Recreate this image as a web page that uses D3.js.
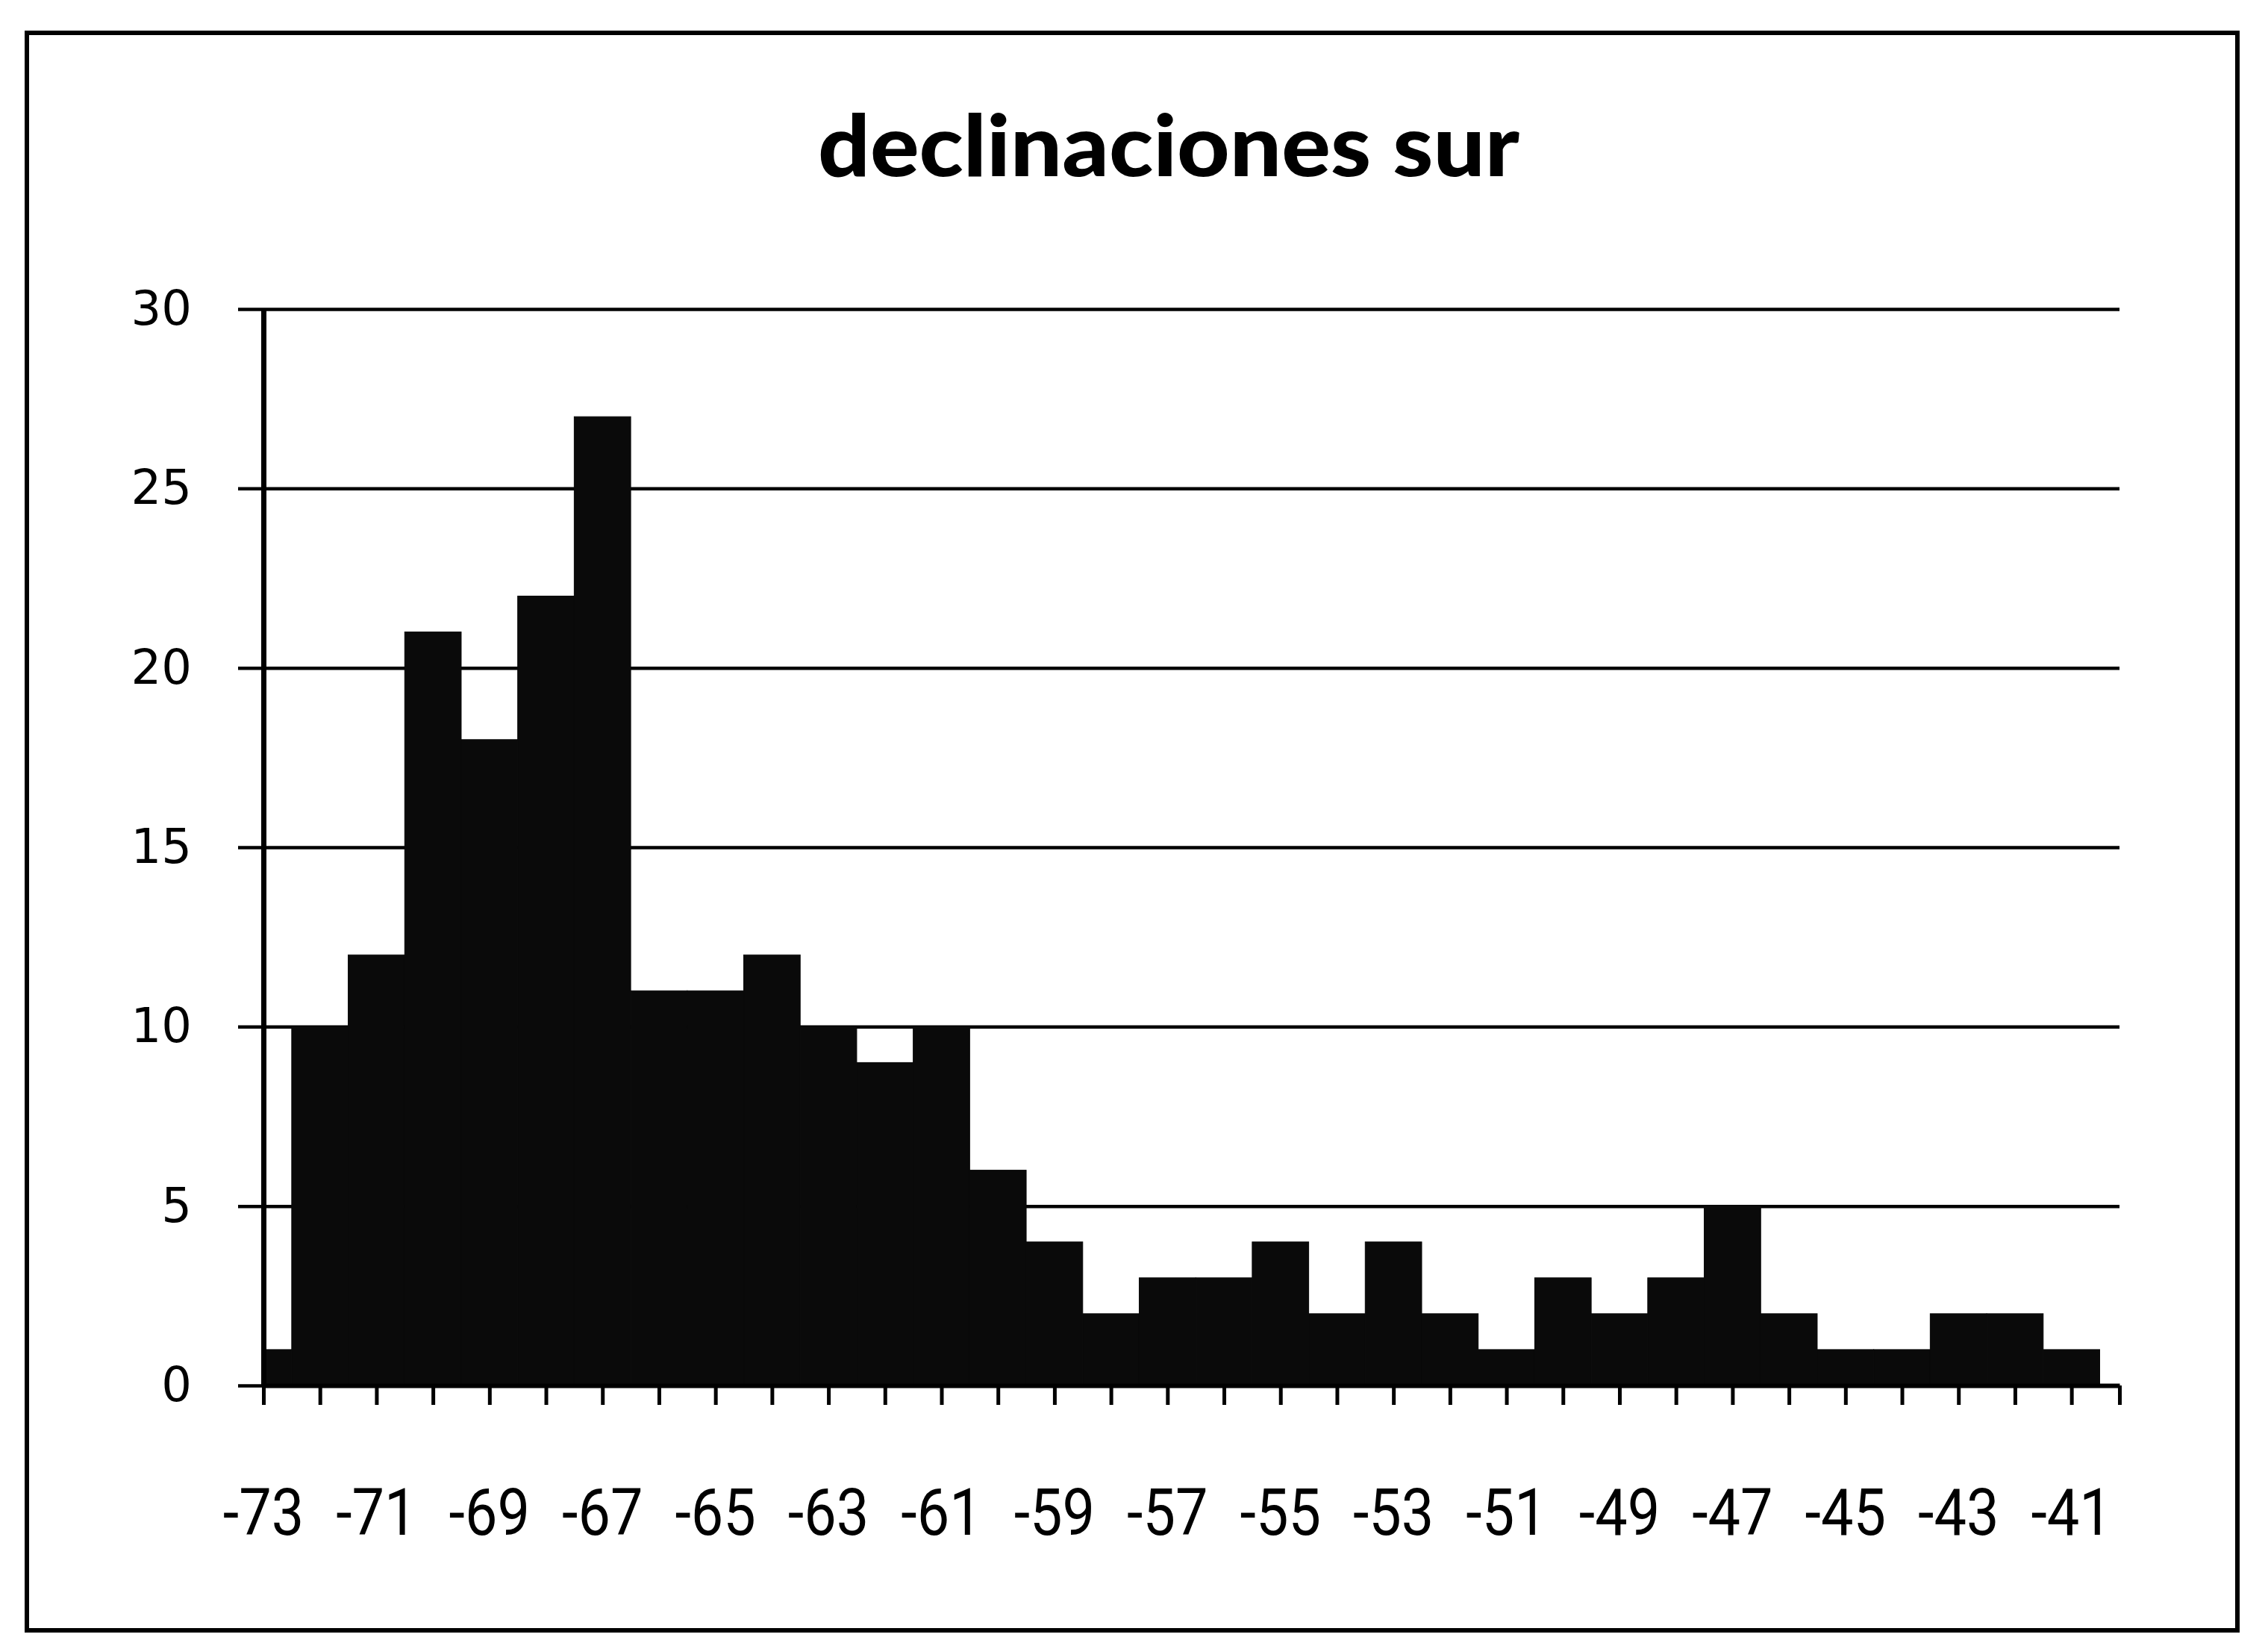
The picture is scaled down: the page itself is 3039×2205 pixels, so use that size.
<!DOCTYPE html>
<html>
<head>
<meta charset="utf-8">
<script src="https://cdn.jsdelivr.net/npm/d3@7"></script>
<style>
  html, body { margin: 0; padding: 0; background: #fff; }
</style>
</head>
<body>
<div id="chart"></div>
<script>
// declination bins (degrees) and star counts per bin
const categories = [-73, -72, -71, -70, -69, -68, -67, -66, -65, -64, -63, -62, -61, -60, -59, -58, -57,
                    -56, -55, -54, -53, -52, -51, -50, -49, -48, -47, -46, -45, -44, -43, -42, -41];
const counts = [1, 10, 12, 21, 18, 22, 27, 11, 11, 12, 10, 9, 10, 6, 4, 2, 3,
                3, 4, 2, 4, 2, 1, 3, 2, 3, 5, 2, 1, 1, 2, 2, 1];
const xTickLabels = [-73, -71, -69, -67, -65, -63, -61, -59, -57, -55, -53, -51, -49, -47, -45, -43, -41];
const yTicks = [0, 5, 10, 15, 20, 25, 30];
const title = "declinaciones sur";

const W = 3039, H = 2205;
const plot = { left: 353, right: 2840, top: 414, bottom: 1856 };

const data = categories.map((c, i) => ({ cat: c, n: counts[i] }));

const svg = d3.select('#chart')
    .append('svg')
    .attr('width', W)
    .attr('height', H)
    .style('display', 'block');

svg.append('rect').attr('width', W).attr('height', H).attr('fill', '#fff');

// outer frame
svg.append('rect')
    .attr('x', 36).attr('y', 44)
    .attr('width', 2962).attr('height', 2140)
    .attr('fill', 'none')
    .attr('stroke', '#000')
    .attr('stroke-width', 6);

svg.append('text')
    .attr('x', 1566)
    .attr('y', 236)
    .attr('text-anchor', 'middle')
    .attr('textLength', 940)
    .attr('lengthAdjust', 'spacingAndGlyphs')
    .style('font-family', 'Lato, "Open Sans", sans-serif')
    .style('font-weight', '900')
    .style('font-size', '114px')
    .style('fill', '#000')
    .text(title);

const x = d3.scaleLinear()
    .domain([-73, -40.15])
    .range([plot.left, plot.right]);

const y = d3.scaleLinear()
    .domain([0, 30])
    .range([plot.bottom, plot.top]);

// gridlines + outer ticks on the left
svg.append('g')
    .attr('transform', `translate(${plot.left},0)`)
    .call(d3.axisLeft(y).tickValues(yTicks).tickSize(-(plot.right - plot.left)).tickSizeOuter(0).tickFormat(''))
    .call(g => g.select('.domain').remove())
    .call(g => g.selectAll('.tick line')
        .attr('x1', -34)
        .attr('stroke', '#000')
        .attr('stroke-width', 4.5));

// bars, first one clipped at the y axis
svg.selectAll('.bar')
    .data(data)
    .enter()
    .append('rect')
    .attr('class', 'bar')
    .attr('x', d => Math.max(x(d.cat - 0.5), x(-73)))
    .attr('width', d => x(d.cat + 0.5) - Math.max(x(d.cat - 0.5), x(-73)))
    .attr('y', d => y(d.n))
    .attr('height', d => y(0) - y(d.n))
    .attr('fill', '#0a0a0a')
    .attr('stroke', '#0a0a0a')
    .attr('stroke-width', 1);

// x axis with a tick at every bin
svg.append('g')
    .attr('transform', `translate(0,${plot.bottom})`)
    .call(d3.axisBottom(x).tickValues(categories.concat([-40.15])).tickSize(26).tickSizeOuter(0).tickFormat(''))
    .call(g => g.select('.domain').attr('stroke', '#000').attr('stroke-width', 6))
    .call(g => g.selectAll('.tick line').attr('stroke', '#000').attr('stroke-width', 5));

svg.append('g')
    .selectAll('text')
    .data(xTickLabels)
    .enter()
    .append('text')
    .attr('transform', d => `translate(${x(d)},2056) scale(0.88,1)`)
    .attr('text-anchor', 'middle')
    .style('font-family', 'Roboto, sans-serif')
    .style('font-size', '88px')
    .style('fill', '#000')
    .text(d => '-' + Math.abs(d));

// y axis line
svg.append('g')
    .attr('transform', `translate(${plot.left},0)`)
    .call(d3.axisLeft(y).tickValues(yTicks).tickSize(0).tickPadding(96))
    .call(g => g.select('.domain').attr('stroke', '#000').attr('stroke-width', 7))
    .call(g => g.selectAll('.tick text')
        .style('font-family', '"DejaVu Sans", sans-serif')
        .style('font-size', '64px')
        .style('fill', '#000'));
</script>
</body>
</html>
